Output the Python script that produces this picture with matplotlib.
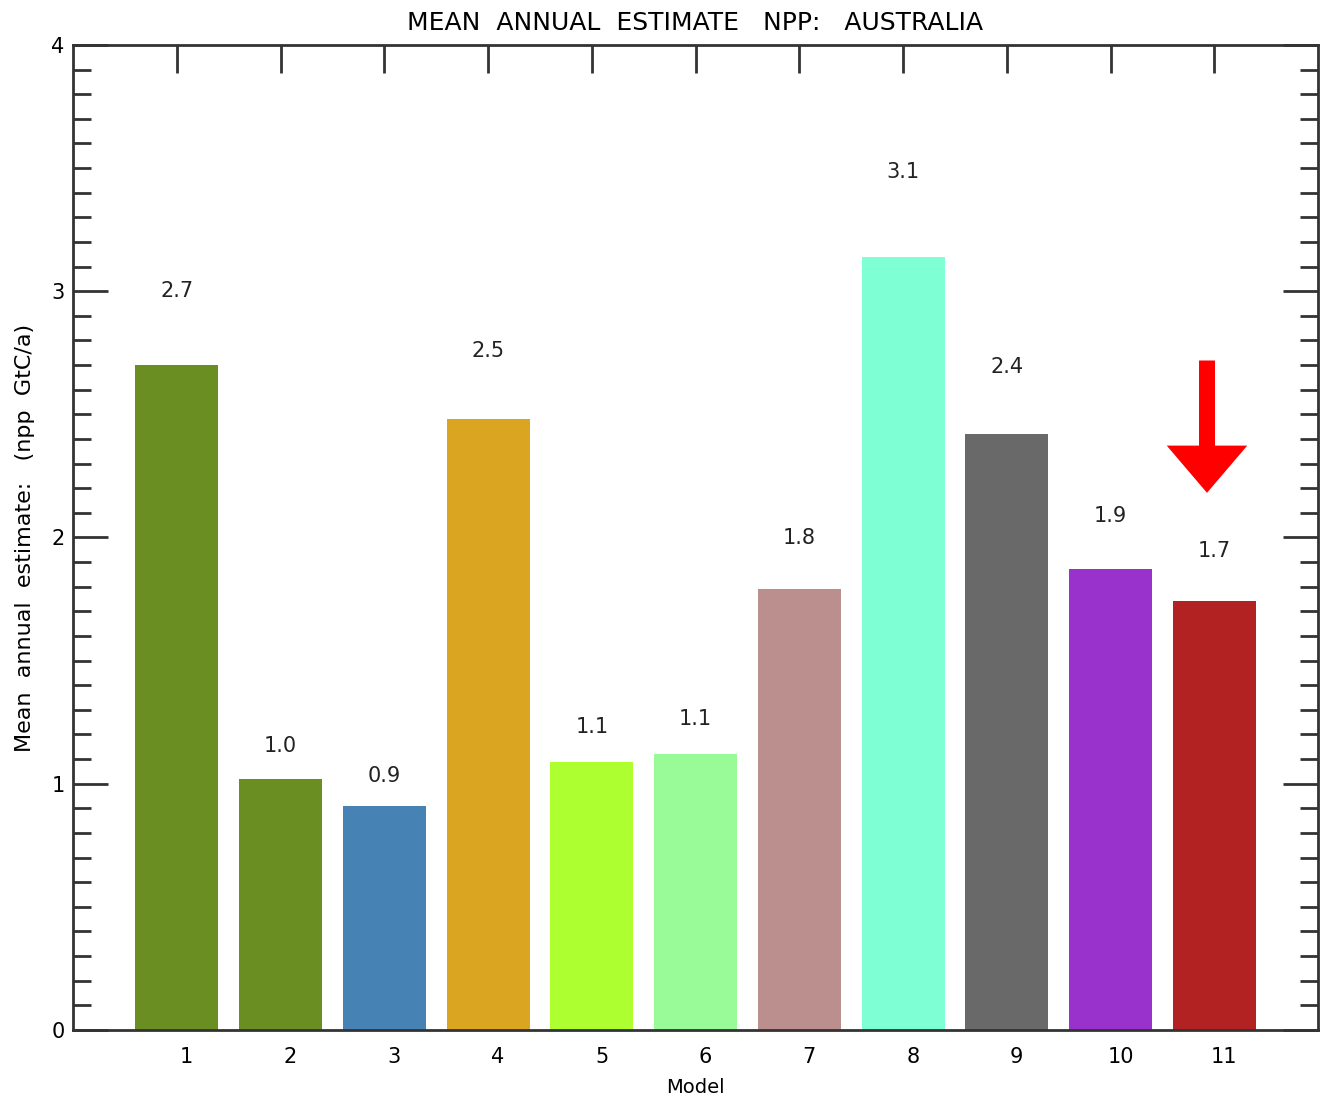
import matplotlib
matplotlib.use("Agg")
from matplotlib import pyplot as plt
from matplotlib.ticker import MultipleLocator
import matplotlib.transforms as mtransforms

models = [1, 2, 3, 4, 5, 6, 7, 8, 9, 10, 11]
npp = [2.70, 1.02, 0.91, 2.48, 1.09, 1.12, 1.79, 3.14, 2.42, 1.87, 1.74]
value_labels = ['2.7', '1.0', '0.9', '2.5', '1.1', '1.1', '1.8', '3.1', '2.4', '1.9', '1.7']
colors = ['#6B8E23', '#6B8E23', '#4682B4', '#DAA520', '#ADFF2F', '#98FB98',
          '#BC8F8F', '#7FFFD4', '#696969', '#9932CC', '#B22222']
highlight = 11

fig = plt.figure(figsize=(13.2, 10.97), dpi=100)
ax = fig.add_axes([0.0553, 0.0611, 0.9432, 0.8979])

ax.bar(models, npp, width=0.8, color=colors, zorder=1)

for m, v, lab in zip(models, npp, value_labels):
    ax.text(m, v * 1.1 + 0.03, lab, ha='center', va='center', fontsize=15, color='#222222')

# red arrow pointing at model 11
ax.annotate('', xy=(highlight - 0.07, 2.17), xytext=(highlight - 0.07, 2.73),
            arrowprops=dict(arrowstyle='simple,head_length=3.4,head_width=5.8,tail_width=1.15',
                            color='red', lw=0))

ax.set_xlim(0, 12)
ax.set_ylim(0, 4)
ax.set_xticks(models)
ax.set_xticklabels([str(m) for m in models], fontsize=15)
ax.yaxis.set_major_locator(MultipleLocator(1))
ax.yaxis.set_minor_locator(MultipleLocator(0.1))
ax.tick_params(axis='y', which='major', direction='in', length=25, width=2,
               left=True, right=True, labelsize=15, color='#333333', pad=6)
ax.tick_params(axis='y', which='minor', direction='in', length=13, width=2,
               left=True, right=True, color='#333333')
ax.tick_params(axis='x', which='major', direction='in', length=20, width=2,
               top=True, bottom=False, labelsize=15, color='#333333', pad=12)
offset = mtransforms.ScaledTranslation(0.1, 0, fig.dpi_scale_trans)
for lbl in ax.get_xticklabels():
    lbl.set_transform(lbl.get_transform() + offset)

for s in ax.spines.values():
    s.set_linewidth(2)
    s.set_color('#333333')

ax.set_title("MEAN  ANNUAL  ESTIMATE   NPP:   AUSTRALIA", fontsize=18, pad=11)
ax.set_xlabel("Model", fontsize=14, labelpad=8)
ax.set_ylabel("Mean  annual  estimate:   (npp  GtC/a)", fontsize=16, labelpad=12)

fig.savefig("out.png", dpi=100)
